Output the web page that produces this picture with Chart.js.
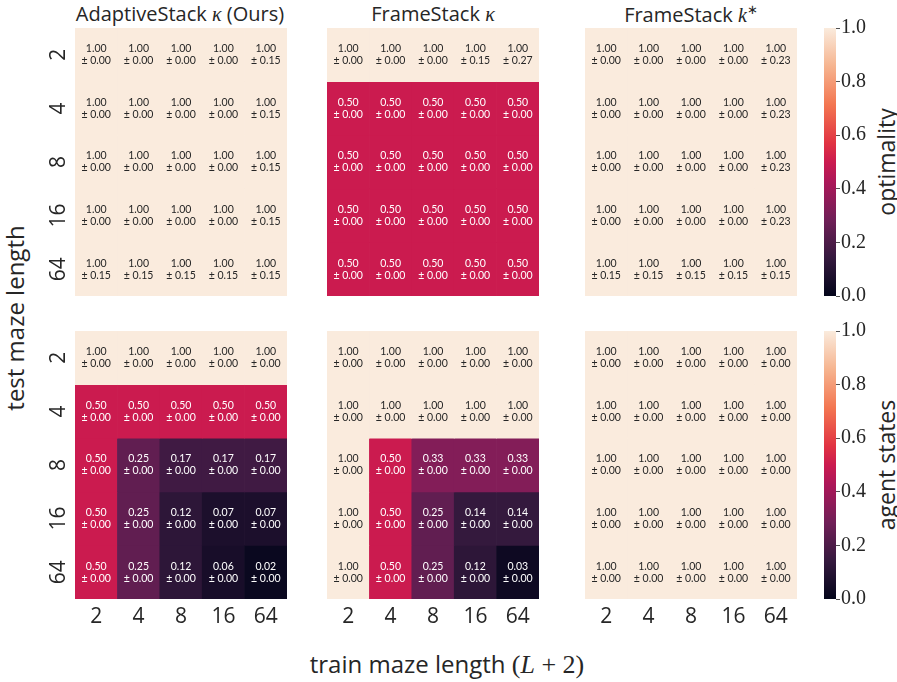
<!DOCTYPE html>
<html>
<head>
<meta charset="utf-8">
<script src="https://cdn.jsdelivr.net/npm/chart.js@4.4.1/dist/chart.umd.min.js"></script>
<style>
  body { margin: 0; background: #fff; }
  #fig { position: relative; width: 897px; height: 682px; overflow: hidden;
         font-family: "Open Sans", Lato, sans-serif; color: #262626; }
  #fig canvas { position: absolute; }
  .lbl { position: absolute; white-space: nowrap; transform: translate(-50%, -50%); line-height: 1; }
  .rot { transform: translate(-50%, -50%) rotate(-90deg); }
  .m { font-family: "Liberation Serif", serif; font-style: italic; }
  .r { font-family: "Liberation Serif", serif; }
</style>
</head>
<body>
<div id="fig">
  <div class="lbl" style="left:180px;top:14px;font-size:20px">AdaptiveStack <span class="m">κ</span> (Ours)</div>
  <div class="lbl" style="left:433px;top:14px;font-size:20px">FrameStack <span class="m">κ</span></div>
  <div class="lbl" style="left:691px;top:14px;font-size:20px">FrameStack <span class="m">k</span><sup class="r" style="font-size:13px">∗</sup></div>
  <div class="lbl rot" style="left:15px;top:318px;font-size:24px">test maze length</div>
  <div class="lbl" style="left:447px;top:665px;font-size:24px">train maze length <span class="r" style="font-size:26px">(</span><span class="m" style="font-size:26px">L</span><span class="r" style="font-size:26px"> + 2)</span></div>
  <div class="lbl rot" style="left:886px;top:162px;font-size:23px">optimality</div>
  <div class="lbl rot" style="left:886px;top:465px;font-size:23px">agent states</div>
</div>
<script>
// ---- data ----
const trainLengths = ["2", "4", "8", "16", "64"];
const testLengths = ["2", "4", "8", "16", "64"];

// optimality (rows = test length, cols = train length)
const adaptiveOptMean = [
  [1, 1, 1, 1, 1],
  [1, 1, 1, 1, 1],
  [1, 1, 1, 1, 1],
  [1, 1, 1, 1, 1],
  [1, 1, 1, 1, 1],
];
const adaptiveOptStd = [
  [0, 0, 0, 0, 0.15],
  [0, 0, 0, 0, 0.15],
  [0, 0, 0, 0, 0.15],
  [0, 0, 0, 0, 0.15],
  [0.15, 0.15, 0.15, 0.15, 0.15],
];
const frameOptMean = [
  [1, 1, 1, 1, 1],
  [0.5, 0.5, 0.5, 0.5, 0.5],
  [0.5, 0.5, 0.5, 0.5, 0.5],
  [0.5, 0.5, 0.5, 0.5, 0.5],
  [0.5, 0.5, 0.5, 0.5, 0.5],
];
const frameOptStd = [
  [0, 0, 0, 0.15, 0.27],
  [0, 0, 0, 0, 0],
  [0, 0, 0, 0, 0],
  [0, 0, 0, 0, 0],
  [0, 0, 0, 0, 0],
];
const frameKOptMean = [
  [1, 1, 1, 1, 1],
  [1, 1, 1, 1, 1],
  [1, 1, 1, 1, 1],
  [1, 1, 1, 1, 1],
  [1, 1, 1, 1, 1],
];
const frameKOptStd = [
  [0, 0, 0, 0, 0.23],
  [0, 0, 0, 0, 0.23],
  [0, 0, 0, 0, 0.23],
  [0, 0, 0, 0, 0.23],
  [0.15, 0.15, 0.15, 0.15, 0.15],
];

// agent states
const adaptiveStatesMean = [
  [1, 1, 1, 1, 1],
  [0.5, 0.5, 0.5, 0.5, 0.5],
  [0.5, 0.25, 0.17, 0.17, 0.17],
  [0.5, 0.25, 0.12, 0.07, 0.07],
  [0.5, 0.25, 0.12, 0.06, 0.02],
];
const frameStatesMean = [
  [1, 1, 1, 1, 1],
  [1, 1, 1, 1, 1],
  [1, 0.5, 0.33, 0.33, 0.33],
  [1, 0.5, 0.25, 0.14, 0.14],
  [1, 0.5, 0.25, 0.12, 0.03],
];
const frameKStatesMean = [
  [1, 1, 1, 1, 1],
  [1, 1, 1, 1, 1],
  [1, 1, 1, 1, 1],
  [1, 1, 1, 1, 1],
  [1, 1, 1, 1, 1],
];
const zeroStd = [
  [0, 0, 0, 0, 0],
  [0, 0, 0, 0, 0],
  [0, 0, 0, 0, 0],
  [0, 0, 0, 0, 0],
  [0, 0, 0, 0, 0],
];

// ---- colormap (seaborn "rocket") ----
const rocketStops = [
  [0, [3, 5, 26]],
  [1 / 7, [53, 25, 62]],
  [2 / 7, [112, 31, 87]],
  [3 / 7, [173, 23, 89]],
  [0.5, [203, 27, 79]],
  [4 / 7, [225, 51, 66]],
  [5 / 7, [243, 118, 81]],
  [6 / 7, [246, 180, 143]],
  [1, [250, 235, 221]],
];

function rocketRGB(v) {
  for (let i = 1; i < rocketStops.length; i++) {
    const [t1, c1] = rocketStops[i];
    const [t0, c0] = rocketStops[i - 1];
    if (v <= t1) {
      const f = (v - t0) / (t1 - t0);
      return c0.map((c, k) => Math.round(c + (c1[k] - c) * f));
    }
  }
  return rocketStops[rocketStops.length - 1][1];
}
const rocket = (v) => `rgb(${rocketRGB(v).join(",")})`;

function textColor(v) {
  const lin = rocketRGB(v).map((c) => {
    c /= 255;
    return c <= 0.03928 ? c / 12.92 : Math.pow((c + 0.055) / 1.055, 2.4);
  });
  const lum = 0.2126 * lin[0] + 0.7152 * lin[1] + 0.0722 * lin[2];
  return lum < 0.408 ? "#ffffff" : "#262626";
}

// ---- layout ----
const colLeft = [75, 327, 585];
const rowTop = [28, 331];
const panelW = 212, panelH = 268;
const ink = "#262626";
const sans = "'Open Sans', Lato, sans-serif";
const fig = document.getElementById("fig");

function addCanvas(left, top, w, h) {
  const c = document.createElement("canvas");
  c.width = w; c.height = h;
  c.style.left = left + "px"; c.style.top = top + "px";
  c.style.width = w + "px"; c.style.height = h + "px";
  fig.appendChild(c);
  return c;
}

// cell annotations: mean on first line, ± std on second
const cellText = {
  id: "cellText",
  afterDatasetsDraw(chart) {
    const ctx = chart.ctx;
    ctx.save();
    ctx.font = "10.5px Lato, sans-serif";
    ctx.textAlign = "center";
    ctx.textBaseline = "middle";
    chart.data.datasets.forEach((ds, i) => {
      chart.getDatasetMeta(i).data.forEach((bar, j) => {
        const { x, y } = bar.getCenterPoint();
        ctx.fillStyle = textColor(ds.means[j]);
        ctx.fillText(ds.means[j].toFixed(2), x, y - 6);
        ctx.fillText("± " + ds.stds[j].toFixed(2), x, y + 6);
      });
    });
    ctx.restore();
  },
};

function makeHeatmap(row, col, mean, std) {
  const yAxisW = col === 0 ? 45 : 0;
  const xAxisH = row === 1 ? 40 : 0;
  const canvas = addCanvas(colLeft[col] - yAxisW, rowTop[row], panelW + yAxisW, panelH + xAxisH);
  const datasets = testLengths.map((t, i) => ({
    label: t,
    data: mean[i].map(() => [i, i + 1]),
    backgroundColor: mean[i].map(rocket),
    means: mean[i],
    stds: std[i],
    grouped: false,
    barPercentage: 1,
    categoryPercentage: 1,
    borderWidth: 0,
  }));
  return new Chart(canvas, {
    type: "bar",
    data: { labels: trainLengths, datasets },
    options: {
      responsive: false,
      animation: false,
      devicePixelRatio: 1,
      layout: { padding: 0 },
      plugins: { legend: { display: false }, tooltip: { enabled: false } },
      scales: {
        x: {
          display: row === 1,
          grid: { display: false },
          border: { display: false },
          ticks: { color: ink, padding: -3, font: { family: sans, size: 21 } },
          afterFit: (s) => { s.height = xAxisH; s.paddingLeft = 0; s.paddingRight = 0; },
        },
        y: {
          display: col === 0,
          min: 0,
          max: 5,
          reverse: true,
          grid: { display: false },
          border: { display: false },
          ticks: {
            color: ink,
            minRotation: 90,
            maxRotation: 90,
            crossAlign: "center",
            padding: -4,
            font: { family: sans, size: 21 },
            callback: (v, i) => testLengths[i],
          },
          afterBuildTicks: (s) => { s.ticks = testLengths.map((_, i) => ({ value: i + 0.5 })); },
          afterFit: (s) => { s.width = yAxisW; s.paddingTop = 0; s.paddingBottom = 0; },
        },
      },
    },
    plugins: [cellText],
  });
}

function gradientFill(context) {
  const area = context.chart.chartArea;
  if (!area) return null;
  const g = context.chart.ctx.createLinearGradient(0, area.bottom, 0, area.top);
  rocketStops.forEach(([t, c]) => g.addColorStop(t, `rgb(${c.join(",")})`));
  return g;
}

function makeColorbar(row) {
  const pad = 14;
  const canvas = addCanvas(824, rowTop[row] - pad, 73, panelH + 2 * pad);
  return new Chart(canvas, {
    type: "bar",
    data: {
      labels: [""],
      datasets: [{ data: [[0, 1]], backgroundColor: gradientFill, barPercentage: 1, categoryPercentage: 1, borderWidth: 0 }],
    },
    options: {
      responsive: false,
      animation: false,
      devicePixelRatio: 1,
      layout: { padding: { top: pad, bottom: pad } },
      plugins: { legend: { display: false }, tooltip: { enabled: false } },
      scales: {
        x: { display: false },
        y: {
          position: "right",
          min: 0,
          max: 1,
          border: { display: false },
          grid: { drawOnChartArea: false, tickLength: 4, color: ink, lineWidth: 0.8 },
          ticks: {
            stepSize: 0.2,
            color: ink,
            padding: 1,
            font: { family: "Liberation Serif", size: 20 },
            callback: (v) => v.toFixed(1),
          },
          afterFit: (s) => { s.width = 61; s.paddingTop = 0; s.paddingBottom = 0; },
        },
      },
    },
  });
}

makeHeatmap(0, 0, adaptiveOptMean, adaptiveOptStd);
makeHeatmap(0, 1, frameOptMean, frameOptStd);
makeHeatmap(0, 2, frameKOptMean, frameKOptStd);
makeHeatmap(1, 0, adaptiveStatesMean, zeroStd);
makeHeatmap(1, 1, frameStatesMean, zeroStd);
makeHeatmap(1, 2, frameKStatesMean, zeroStd);
makeColorbar(0);
makeColorbar(1);
</script>
</body>
</html>
